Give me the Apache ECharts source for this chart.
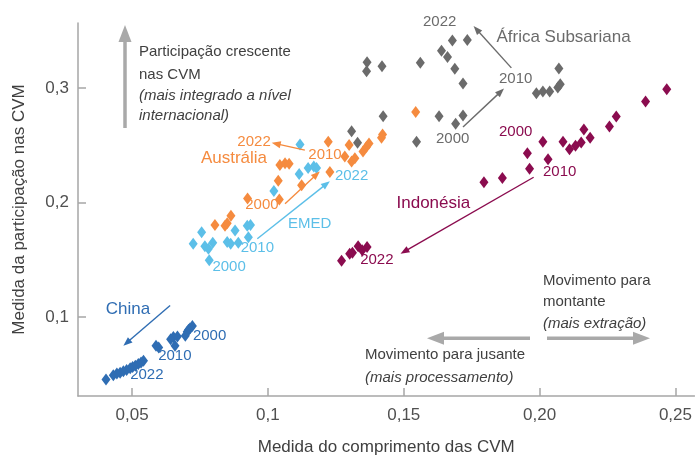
<!DOCTYPE html>
<html>
<head>
<meta charset="utf-8">
<script src="https://cdn.jsdelivr.net/npm/echarts@6/dist/echarts.min.js"></script>
<style>
html,body{margin:0;padding:0;background:#fff;}
#chart{width:695px;height:461px;}
</style>
</head>
<body>
<div id="chart"></div>
<script>
// ---- data (x = comprimento das CVM, y = participação nas CVM) ----
const chinaData = [
  [0.0722,0.0922],[0.0713,0.0899],[0.0708,0.0888],[0.0703,0.0871],[0.0696,0.0836],
  [0.0667,0.0830],[0.0652,0.0825],[0.0642,0.0807],[0.0658,0.0750],[0.0598,0.0733],
  [0.0588,0.0750],[0.0542,0.0618],[0.0533,0.0603],[0.0523,0.0589],[0.0512,0.0575],
  [0.0502,0.0563],[0.0493,0.0552],[0.0480,0.0537],[0.0468,0.0526],[0.0456,0.0514],
  [0.0444,0.0506],[0.0431,0.0491],[0.0404,0.0454]
];
const emedData = [
  [0.0725,0.1641],[0.0756,0.1741],[0.0768,0.1618],[0.0781,0.1597],[0.0797,0.1649],
  [0.0784,0.1497],[0.0850,0.1655],[0.0863,0.1641],[0.0879,0.1756],[0.0891,0.1649],
  [0.0928,0.1698],[0.0924,0.1799],[0.0936,0.1804],[0.1022,0.2101],[0.1118,0.2509],
  [0.1115,0.2250],[0.1148,0.2302],[0.1169,0.2316],[0.1179,0.2302]
];
const australiaData = [
  [0.0805,0.1804],[0.0842,0.1799],[0.0850,0.1819],[0.0864,0.1885],[0.0925,0.2037],
  [0.1042,0.2028],[0.1038,0.2192],[0.1044,0.2330],[0.1063,0.2345],[0.1078,0.2339],
  [0.1124,0.2153],[0.1228,0.2267],[0.1222,0.2532],[0.1283,0.2403],[0.1299,0.2503],
  [0.1308,0.2359],[0.1320,0.2388],[0.1350,0.2446],[0.1363,0.2489],[0.1372,0.2517],
  [0.1418,0.2566],[0.1422,0.2595],[0.1544,0.2793]
];
const ssaData = [
  [0.1365,0.3227],[0.1363,0.3149],[0.1420,0.3192],[0.1561,0.3222],[0.1639,0.3328],
  [0.1661,0.3273],[0.1679,0.3416],[0.1734,0.3422],[0.1688,0.3170],[0.1718,0.3041],
  [0.1424,0.2756],[0.1630,0.2756],[0.1691,0.2690],[0.1718,0.2761],[0.1547,0.2532],
  [0.1308,0.2623],[0.1330,0.2523],[0.1988,0.2957],[0.2012,0.2972],[0.2037,0.2972],
  [0.2067,0.3006],[0.2076,0.3034],[0.2071,0.3172]
];
const indonesiaData = [
  [0.1271,0.1491],[0.1301,0.1554],[0.1311,0.1563],[0.1332,0.1618],[0.1347,0.1584],
  [0.1365,0.1612],[0.1795,0.2178],[0.1863,0.2216],[0.1955,0.2431],[0.1963,0.2296],
  [0.2012,0.2532],[0.2031,0.2379],[0.2086,0.2532],[0.2110,0.2466],[0.2132,0.2497],
  [0.2153,0.2526],[0.2163,0.2640],[0.2186,0.2566],[0.2257,0.2666],[0.2282,0.2753],
  [0.2390,0.2885],[0.2468,0.2991]
];
const xTickValues = [0.05,0.10,0.15,0.20,0.25];
const xTickLabels = ['0,05','0,1','0,15','0,20','0,25'];
const yTickValues = [0.1,0.2,0.3];
const yTickLabels = ['0,1','0,2','0,3'];

const FONT = '"Liberation Sans", Arial, Helvetica, sans-serif';
const C = {china:'#2f6db3', emed:'#5cbfe8', aus:'#f58b3f', ssa:'#6b6b6b', ind:'#8b0c4f', txt:'#404040', axis:'#a6a6a6'};

// annotations in data coordinates
const labelDefs = [
  {t:'China', x:0.0485, y:0.1069, c:C.china, s:17, a:'center'},
  {t:'2000', x:0.0724, y:0.0836, c:C.china, s:15, a:'left'},
  {t:'2010', x:0.0596, y:0.0664, c:C.china, s:15, a:'left'},
  {t:'2022', x:0.0493, y:0.0491, c:C.china, s:15, a:'left'},
  {t:'EMED', x:0.1154, y:0.1813, c:C.emed, s:15, a:'center'},
  {t:'2000', x:0.0857, y:0.1440, c:C.emed, s:15, a:'center'},
  {t:'2010', x:0.0961, y:0.1608, c:C.emed, s:15, a:'center'},
  {t:'2022', x:0.1308, y:0.2237, c:C.emed, s:15, a:'center'},
  {t:'Austrália', x:0.0875, y:0.2388, c:C.aus, s:17, a:'center'},
  {t:'2000', x:0.0978, y:0.1983, c:C.aus, s:15, a:'center'},
  {t:'2010', x:0.1210, y:0.2414, c:C.aus, s:15, a:'center'},
  {t:'2022', x:0.0949, y:0.2530, c:C.aus, s:15, a:'center'},
  {t:'2022', x:0.1632, y:0.3582, c:C.ssa, s:15, a:'center'},
  {t:'África Subsariana', x:0.1841, y:0.3446, c:C.ssa, s:17, a:'left'},
  {t:'2010', x:0.1912, y:0.3086, c:C.ssa, s:15, a:'center'},
  {t:'2000', x:0.1680, y:0.2560, c:C.ssa, s:15, a:'center'},
  {t:'2000', x:0.1912, y:0.2621, c:C.ind, s:15, a:'center'},
  {t:'2010', x:0.2074, y:0.2267, c:C.ind, s:15, a:'center'},
  {t:'2022', x:0.1401, y:0.1500, c:C.ind, s:15, a:'center'},
  {t:'Indonésia', x:0.1609, y:0.1996, c:C.ind, s:17, a:'center'}
];
const arrowDefs = [
  {f:[0.0640,0.1101], to:[0.0468,0.0750], c:C.china},
  {f:[0.0961,0.1684], to:[0.1228,0.2187], c:C.emed},
  {f:[0.1063,0.1991], to:[0.1191,0.2273], c:C.aus},
  {f:[0.1136,0.2459], to:[0.1014,0.2523], c:C.aus},
  {f:[0.1718,0.2661], to:[0.1869,0.2997], c:C.ssa},
  {f:[0.1896,0.3178], to:[0.1757,0.3543], c:C.ssa},
  {f:[0.1978,0.2222], to:[0.1488,0.1554], c:C.ind}
];

const chart = echarts.init(document.getElementById('chart'), null, {renderer:'canvas'});

function scatter(name, data, color){
  return {name, type:'scatter', data, symbol:'diamond', symbolSize:[9,12],
    itemStyle:{color, opacity:1}, emphasis:{disabled:true}};
}
function fmt(vals, labels){
  return v => { const i = vals.findIndex(t => Math.abs(t - v) < 1e-9); return i >= 0 ? labels[i] : ''; };
}

chart.setOption({
  animation:false,
  backgroundColor:'#fff',
  grid:{left:78, top:23, width:617, height:378, containLabel:false},
  xAxis:{
    type:'value', min:0.0301, max:0.257,
    axisLine:{show:true, onZero:false, lineStyle:{color:C.axis, width:1.5}},
    axisTick:{show:true, inside:true, length:8, customValues:xTickValues, lineStyle:{color:C.axis, width:1.5}},
    axisLabel:{customValues:xTickValues, formatter:fmt(xTickValues,xTickLabels), color:'#505050', fontSize:17, fontFamily:FONT, margin:11},
    splitLine:{show:false},
    name:'Medida do comprimento das CVM', nameLocation:'middle', nameGap:43,
    nameTextStyle:{color:C.txt, fontSize:17, fontFamily:FONT}
  },
  yAxis:{
    type:'value', min:0.031, max:0.357,
    axisLine:{show:true, onZero:false, lineStyle:{color:C.axis, width:1.5}},
    axisTick:{show:true, inside:true, length:8, customValues:yTickValues, lineStyle:{color:C.axis, width:1.5}},
    axisLabel:{customValues:yTickValues, formatter:fmt(yTickValues,yTickLabels), color:'#505050', fontSize:17, fontFamily:FONT, margin:9},
    splitLine:{show:false},
    name:'Medida da participação nas CVM', nameLocation:'middle', nameGap:50, nameRotate:90,
    nameTextStyle:{color:C.txt, fontSize:17, fontFamily:FONT}
  },
  series:[
    scatter('China', chinaData, C.china),
    scatter('EMED', emedData, C.emed),
    scatter('Austrália', australiaData, C.aus),
    scatter('África Subsariana', ssaData, C.ssa),
    scatter('Indonésia', indonesiaData, C.ind)
  ]
});

function arrowShapes(x1,y1,x2,y2,color,lw,hl,hw){
  const dx=x2-x1, dy=y2-y1, L=Math.hypot(dx,dy), ux=dx/L, uy=dy/L, nx=-uy, ny=ux;
  const bx=x2-ux*hl, by=y2-uy*hl;
  return [
    {type:'line', z:50, shape:{x1, y1, x2:x2-ux*hl*0.7, y2:y2-uy*hl*0.7}, style:{stroke:color, lineWidth:lw}},
    {type:'polygon', z:50, shape:{points:[[x2,y2],[bx+nx*hw/2,by+ny*hw/2],[bx-nx*hw/2,by-ny*hw/2]]}, style:{fill:color}}
  ];
}
function txt(t,x,y,color,size,align,italic){
  return {type:'text', z:60, x, y, style:{text:t, fill:color, font:(italic?'italic ':'')+size+'px '+FONT, align:align, verticalAlign:'middle'}};
}

const g = [];
const toPx = (p) => chart.convertToPixel({gridIndex:0}, p);
labelDefs.forEach(d => { const p = toPx([d.x,d.y]); g.push(txt(d.t,p[0],p[1],d.c,d.s,d.a,false)); });
arrowDefs.forEach(d => { const a = toPx(d.f), b = toPx(d.to); g.push(...arrowShapes(a[0],a[1],b[0],b[1],d.c,1.4,9,7)); });

// big explanatory annotations (page layout)
const gray = '#a9a9a9';
g.push(...arrowShapes(125,128,125,25,gray,3.5,17,13));
g.push(txt('Participação crescente',139,51.5,C.txt,15,'left',false));
g.push(txt('nas CVM',139,74.5,C.txt,15,'left',false));
g.push(txt('(mais integrado a nível',139,95.8,C.txt,15,'left',true));
g.push(txt('internacional)',139,116,C.txt,15,'left',true));

g.push(txt('Movimento para',543,280.5,C.txt,15,'left',false));
g.push(txt('montante',543,302,C.txt,15,'left',false));
g.push(txt('(mais extração)',543,323.8,C.txt,15,'left',true));
g.push(...arrowShapes(547,338.3,650,338.3,gray,3.5,17,13));
g.push(...arrowShapes(530,338.3,427,338.3,gray,3.5,17,13));
g.push(txt('Movimento para jusante',365,354.8,C.txt,15,'left',false));
g.push(txt('(mais processamento)',365,378,C.txt,15,'left',true));

chart.setOption({graphic:{elements:g}});
</script>
</body>
</html>
